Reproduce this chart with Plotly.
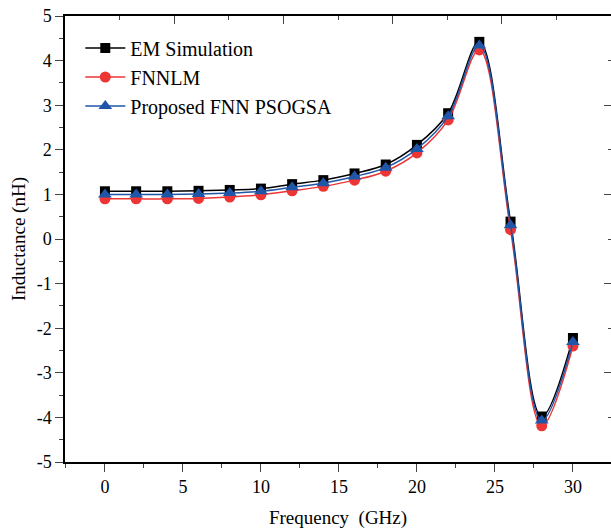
import plotly.graph_objects as go

freq = [0, 2, 4, 6, 8, 10, 12, 14, 16, 18, 20, 22, 24, 26, 28, 30]
em_sim = [1.07, 1.07, 1.07, 1.08, 1.10, 1.13, 1.23, 1.32, 1.47, 1.67, 2.11, 2.82, 4.42, 0.39, -3.98, -2.22]
fnnlm = [0.90, 0.90, 0.90, 0.91, 0.94, 0.99, 1.08, 1.18, 1.32, 1.52, 1.93, 2.67, 4.24, 0.21, -4.19, -2.40]
psogsa = [1.00, 1.00, 1.00, 1.01, 1.03, 1.07, 1.16, 1.25, 1.40, 1.60, 2.02, 2.75, 4.34, 0.31, -4.07, -2.31]

x_ticks = [0, 5, 10, 15, 20, 25, 30]
y_ticks = [-5, -4, -3, -2, -1, 0, 1, 2, 3, 4, 5]
y_tick_labels = ["-5", "-4", "-3", "-2", "-1", "0", "1", "2", "3", "4", "5"]

FONT = "Liberation Serif, DejaVu Serif, serif"
BLACK = "#000000"
RED = "#EE3535"
BLUE = "#1F56A8"

fig = go.Figure()
fig.add_trace(go.Scatter(
    x=freq, y=em_sim, name="EM Simulation", mode="lines+markers",
    line=dict(color=BLACK, width=1.5, shape="spline"),
    marker=dict(symbol="square", size=10, color=BLACK),
))
fig.add_trace(go.Scatter(
    x=freq, y=fnnlm, name="FNNLM", mode="lines+markers",
    line=dict(color=RED, width=1.5, shape="spline"),
    marker=dict(symbol="circle", size=11, color=RED),
))
fig.add_trace(go.Scatter(
    x=freq, y=psogsa, name="Proposed FNN PSOGSA", mode="lines+markers",
    line=dict(color=BLUE, width=1.5, shape="spline"),
    marker=dict(symbol="triangle-up", size=12, color=BLUE),
))

# invisible trace to activate mirror axes (top / right)
fig.add_trace(go.Scatter(x=[None], y=[None], xaxis="x2", yaxis="y2", showlegend=False, hoverinfo="skip"))

fig.update_layout(
    width=611, height=529,
    margin=dict(l=65, r=0, t=16, b=67, autoexpand=False),
    paper_bgcolor="white", plot_bgcolor="white",
    font=dict(family=FONT, size=18, color="black"),
    showlegend=True,
    legend=dict(
        x=0.028, y=0.972, xanchor="left", yanchor="top",
        bgcolor="rgba(0,0,0,0)", font=dict(family=FONT, size=20),
        tracegroupgap=0, itemwidth=40,
    ),
    xaxis=dict(
        range=[-2.56, 32.44], tickvals=x_ticks, ticks="outside", ticklen=8, tickwidth=1.2,
        showline=True, linecolor="black", linewidth=1.5, showgrid=False, zeroline=False,
        minor=dict(dtick=2.5, tick0=0, ticks="outside", ticklen=4, tickwidth=1.2, showgrid=False),
        title=dict(text="Frequency  (GHz)", font=dict(family=FONT, size=19), standoff=15),
        tickfont=dict(family=FONT, size=18), automargin=False, ticklabeloverflow="allow",
    ),
    yaxis=dict(
        range=[-5, 5], tickvals=y_ticks, ticktext=y_tick_labels, ticks="outside", ticklen=8, tickwidth=1.2,
        showline=True, linecolor="black", linewidth=1.5, showgrid=False, zeroline=False,
        minor=dict(dtick=0.5, tick0=0, ticks="outside", ticklen=4, tickwidth=1.2, showgrid=False),
        title=dict(text="Inductance (nH)", font=dict(family=FONT, size=19), standoff=6),
        tickfont=dict(family=FONT, size=18), automargin=False, ticklabeloverflow="allow",
    ),
    xaxis2=dict(
        overlaying="x", side="top", range=[0, 5], dtick=1, tick0=0,
        ticks="inside", ticklen=8, tickwidth=1.2, showticklabels=False,
        showline=True, linecolor="black", linewidth=1.5, showgrid=False, zeroline=False,
        minor=dict(dtick=0.5, tick0=0, ticks="inside", ticklen=4, tickwidth=1.2, showgrid=False),
    ),
    yaxis2=dict(
        overlaying="y", side="right", range=[0, 5], dtick=1, tick0=0,
        ticks="inside", ticklen=7, tickwidth=1.2, showticklabels=False,
        showline=True, linecolor="black", linewidth=1.5, showgrid=False, zeroline=False,
        minor=dict(dtick=0.5, tick0=0, ticks="inside", ticklen=3, tickwidth=1.2, showgrid=False),
    ),
)

# remove the default page margin so the figure sits at the window's top-left corner
fig.write_html(
    "out.html",
    config={"displayModeBar": False},
    post_script="document.body.style.margin='0';document.body.style.overflow='hidden';",
)
